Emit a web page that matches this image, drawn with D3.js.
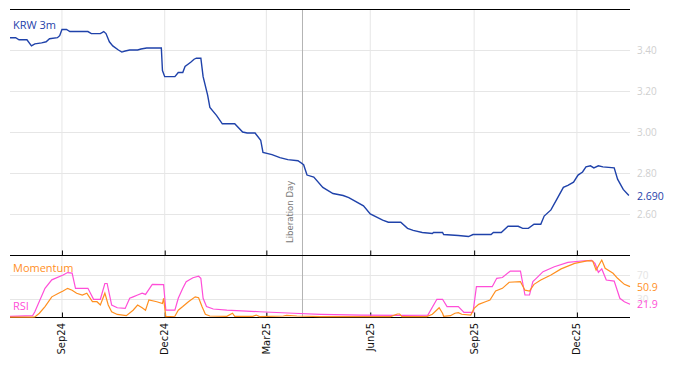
<!DOCTYPE html>
<html><head><meta charset="utf-8">
<script src="https://cdn.jsdelivr.net/npm/d3@7"></script>
<style>
html,body{margin:0;padding:0;background:#fff;}
svg{display:block;}
</style></head>
<body><svg id="c" width="674" height="366"></svg>
<script>
// ---- data ----
const krwDates = ["2024-07-17","2024-07-22","2024-07-25","2024-08-01","2024-08-05","2024-08-08","2024-08-14","2024-08-18","2024-08-21","2024-08-28","2024-08-30","2024-09-01","2024-09-05","2024-09-08","2024-09-24","2024-09-27","2024-10-05","2024-10-08","2024-10-10","2024-10-13","2024-10-16","2024-10-21","2024-10-24","2024-10-27","2024-10-31","2024-11-07","2024-11-10","2024-11-15","2024-11-28","2024-11-29","2024-12-01","2024-12-10","2024-12-13","2024-12-17","2024-12-19","2024-12-24","2024-12-27","2024-12-29","2025-01-02","2025-01-04","2025-01-08","2025-01-10","2025-01-16","2025-01-21","2025-02-01","2025-02-08","2025-02-12","2025-02-19","2025-02-24","2025-02-26","2025-03-06","2025-03-13","2025-03-20","2025-03-29","2025-04-03","2025-04-06","2025-04-12","2025-04-20","2025-04-29","2025-05-08","2025-05-13","2025-05-26","2025-06-01","2025-06-12","2025-06-17","2025-06-28","2025-07-04","2025-07-09","2025-07-17","2025-07-26","2025-07-27","2025-08-04","2025-08-05","2025-08-18","2025-08-27","2025-08-31","2025-09-16","2025-09-18","2025-09-25","2025-10-01","2025-10-10","2025-10-14","2025-10-19","2025-10-24","2025-10-30","2025-11-02","2025-11-08","2025-11-14","2025-11-19","2025-11-23","2025-11-28","2025-12-02","2025-12-06","2025-12-09","2025-12-13","2025-12-16","2025-12-20","2025-12-24","2026-01-03","2026-01-06","2026-01-11","2026-01-16"];
const krwValues = [3.46,3.46,3.45,3.45,3.42,3.43,3.435,3.44,3.455,3.46,3.47,3.50,3.50,3.49,3.49,3.48,3.48,3.49,3.48,3.44,3.42,3.40,3.39,3.395,3.40,3.40,3.405,3.41,3.41,3.30,3.27,3.27,3.29,3.29,3.32,3.34,3.355,3.36,3.36,3.27,3.18,3.12,3.08,3.04,3.04,3.00,2.995,2.995,2.96,2.90,2.89,2.875,2.865,2.86,2.84,2.79,2.78,2.73,2.70,2.69,2.68,2.64,2.60,2.57,2.56,2.56,2.53,2.52,2.51,2.505,2.51,2.51,2.50,2.495,2.49,2.50,2.50,2.51,2.51,2.54,2.54,2.53,2.53,2.55,2.55,2.59,2.62,2.68,2.73,2.74,2.755,2.79,2.805,2.83,2.835,2.825,2.835,2.83,2.825,2.77,2.72,2.69];

const rsiDates = ["2024-07-17","2024-08-06","2024-08-08","2024-08-17","2024-08-23","2024-09-02","2024-09-06","2024-09-10","2024-09-13","2024-09-24","2024-09-29","2024-10-05","2024-10-09","2024-10-11","2024-10-15","2024-10-20","2024-10-27","2024-10-31","2024-11-03","2024-11-07","2024-11-11","2024-11-14","2024-11-20","2024-11-30","2024-12-02","2024-12-10","2024-12-13","2024-12-17","2024-12-20","2024-12-26","2024-12-31","2025-01-02","2025-01-04","2025-01-07","2025-01-13","2025-01-25","2025-02-23","2025-03-25","2025-04-18","2025-05-24","2025-06-28","2025-07-22","2025-07-30","2025-08-04","2025-08-08","2025-08-18","2025-08-23","2025-08-31","2025-09-03","2025-09-17","2025-09-21","2025-09-26","2025-10-03","2025-10-12","2025-10-16","2025-10-20","2025-10-23","2025-10-26","2025-11-01","2025-11-11","2025-11-23","2025-12-05","2025-12-14","2025-12-17","2025-12-20","2025-12-23","2025-12-27","2026-01-03","2026-01-08","2026-01-12","2026-01-17"];
const rsiValues = [2,3,9.5,48,62,70,74,73,48,48,30,30,56,56,20.6,16,15,31.6,34,37,40,38,54.6,54,12,12,31.6,48,59,65.5,68,64.5,31.6,18,14,12.3,9.5,7,5.3,4,3.5,4,30,30,18,18,8.5,8.5,50.7,50.7,64.5,65.8,76.5,76.5,37,37,59,64.5,75.4,83.6,90.8,93,94,89,74.4,80,61.7,60,31.6,26,21.9];

const momDates = ["2024-07-17","2024-08-06","2024-08-08","2024-08-12","2024-08-17","2024-08-23","2024-08-29","2024-09-02","2024-09-06","2024-09-10","2024-09-14","2024-09-19","2024-09-23","2024-09-28","2024-10-02","2024-10-05","2024-10-09","2024-10-12","2024-10-15","2024-10-20","2024-10-28","2024-11-03","2024-11-07","2024-11-11","2024-11-14","2024-11-17","2024-11-24","2024-11-29","2024-11-30","2024-12-02","2024-12-10","2024-12-13","2024-12-17","2024-12-22","2024-12-28","2024-12-31","2025-01-03","2025-01-06","2025-01-10","2025-01-25","2025-01-30","2025-02-01","2025-02-17","2025-02-20","2025-02-23","2025-03-16","2025-03-19","2025-03-28","2025-04-18","2025-06-19","2025-06-25","2025-06-27","2025-06-29","2025-07-21","2025-07-26","2025-08-01","2025-08-04","2025-08-05","2025-08-11","2025-08-15","2025-08-18","2025-08-21","2025-08-29","2025-09-01","2025-09-05","2025-09-11","2025-09-15","2025-09-20","2025-09-26","2025-10-02","2025-10-12","2025-10-16","2025-10-20","2025-10-24","2025-10-30","2025-11-08","2025-11-17","2025-11-29","2025-12-11","2025-12-15","2025-12-18","2025-12-23","2025-12-26","2026-01-02","2026-01-06","2026-01-12","2026-01-17"];
const momValues = [0.5,0.5,1,7,18,34,40,43.6,48,45,40,37,40,26,26,20.6,40,20.6,9.5,5,3,12,20.6,16,12,29,26,23,31.6,1.5,2,12,18,26,34,32.6,18,5.3,2.5,2,7,2,2,4,1.5,2.5,3.5,2.5,1.5,1.5,5.8,5.8,1.5,1.5,5.3,16,7,2,3,7,8,5.3,4,15,21.7,26,28.8,43.6,48,58,59,45,43.6,54.6,61.7,70,80,89,93.5,93,78,94.6,81,72.8,64.5,54.6,50.9];

const xTickDates = ["2024-09-01","2024-12-01","2025-03-01","2025-06-01","2025-09-01","2025-12-01"];
const xTickLabels = ["Sep24","Dec24","Mar25","Jun25","Sep25","Dec25"];
const yTicksTop = [2.6,2.8,3.0,3.2,3.4];
const yTicksBottom = [30,70];
const eventDate = "2025-04-02";
const eventLabel = "Liberation Day";
const lastKrwLabel = "2.690";
const lastMomLabel = "50.9";
const lastRsiLabel = "21.9";

// ---- drawing ----
const P = d3.timeParse("%Y-%m-%d");
const svg = d3.select("#c");
const L = 10, R = 630, T1 = 9, B1 = 255, B2 = 317;
const blue = "#1f42aa", orange = "#ff8f1f", pink = "#ff4ed8", grid = "#e6e6e6", tickGrey = "#cfcfcf";

const x = d3.scaleTime().domain([P("2024-07-17"), P("2026-01-17")]).range([L, R]);
const yTop = d3.scaleLinear().domain([2.6, 3.4]).range([214, 50]);
const yBot = d3.scaleLinear().domain([0, 100]).range([317.5, 256.75]);

const tickDates = xTickDates.map(P);

// vertical gridlines
svg.append("g").selectAll("line").data(tickDates).join("line")
  .attr("x1", d => x(d)).attr("x2", d => x(d)).attr("y1", T1).attr("y2", B2)
  .attr("stroke", grid).attr("stroke-width", 1);

// horizontal gridlines
svg.append("g").selectAll("line").data(yTicksTop).join("line")
  .attr("x1", L).attr("x2", R).attr("y1", d => Math.round(yTop(d)) + 0.5).attr("y2", d => Math.round(yTop(d)) + 0.5)
  .attr("stroke", grid);
svg.append("g").selectAll("line").data(yTicksBottom).join("line")
  .attr("x1", L).attr("x2", R).attr("y1", d => Math.round(yBot(d)) + 0.5).attr("y2", d => Math.round(yBot(d)) + 0.5)
  .attr("stroke", grid);

// event line
const ex = x(P(eventDate));
svg.append("line").attr("x1", ex).attr("x2", ex).attr("y1", T1).attr("y2", B2)
  .attr("stroke", "#b4b4b4").attr("stroke-width", 1);
svg.append("text").attr("transform", `translate(${ex - 9},243) rotate(-90)`)
  .attr("font-family", "DejaVu Sans, sans-serif").attr("font-size", 8.5).attr("fill", "#777")
  .text(eventLabel);

// axes frames
svg.append("line").attr("x1", L).attr("x2", R).attr("y1", T1 + 0.5).attr("y2", T1 + 0.5).attr("stroke", "#000");
svg.append("line").attr("x1", L).attr("x2", R).attr("y1", B1 + 0.5).attr("y2", B1 + 0.5).attr("stroke", "#000");
svg.append("line").attr("x1", L).attr("x2", R).attr("y1", B2 + 0.5).attr("y2", B2 + 0.5).attr("stroke", "#000");

// ticks (inward)
const axTop = d3.axisTop(x).tickValues(tickDates).tickSize(5).tickFormat("");
const gT = svg.append("g").attr("transform", `translate(0,${B1 + 0.5})`).call(axTop);
gT.select(".domain").remove();
const axB = d3.axisTop(x).tickValues(tickDates).tickSize(5).tickFormat("");
const gB = svg.append("g").attr("transform", `translate(0,${B2 + 0.5})`).call(axB);
gB.select(".domain").remove();
svg.selectAll(".tick line").attr("stroke", "#000");

// x labels
svg.append("g").selectAll("text").data(tickDates).join("text")
  .attr("transform", (d) => `translate(${x(d) + 3.5},${B2 + 6}) rotate(-90)`)
  .attr("text-anchor", "end")
  .attr("font-family", "DejaVu Sans, sans-serif").attr("font-size", 10).attr("fill", "#111")
  .text((d, i) => xTickLabels[i]);

// right axis labels
svg.append("g").selectAll("text").data(yTicksTop).join("text")
  .attr("x", 637).attr("y", d => yTop(d) + 4)
  .attr("font-family", "Open Sans, sans-serif").attr("font-size", 10).attr("fill", tickGrey)
  .text(d => d.toFixed(2));
svg.append("g").selectAll("text").data(yTicksBottom).join("text")
  .attr("x", 637).attr("y", d => yBot(d) + 4)
  .attr("font-family", "Open Sans, sans-serif").attr("font-size", 10).attr("fill", "#e4e4e4")
  .text(d => d);

// lines
const krw = krwDates.map((d, i) => ({d: P(d), v: krwValues[i]}));
const rsi = rsiDates.map((d, i) => ({d: P(d), v: rsiValues[i]}));
const mom = momDates.map((d, i) => ({d: P(d), v: momValues[i]}));

svg.append("path").datum(krw)
  .attr("d", d3.line().x(p => x(p.d)).y(p => yTop(p.v)))
  .attr("fill", "none").attr("stroke", blue).attr("stroke-width", 1.4);
svg.append("path").datum(rsi)
  .attr("d", d3.line().x(p => x(p.d)).y(p => yBot(p.v)))
  .attr("fill", "none").attr("stroke", pink).attr("stroke-width", 1.2);
svg.append("path").datum(mom)
  .attr("d", d3.line().x(p => x(p.d)).y(p => yBot(p.v)))
  .attr("fill", "none").attr("stroke", orange).attr("stroke-width", 1.2);

// labels
const lab = (t, xx, yy, c, fs) => svg.append("text").attr("x", xx).attr("y", yy)
  .attr("font-family", "Open Sans, sans-serif").attr("font-size", fs).attr("fill", c).text(t);
lab("KRW 3m", 13, 29, blue, 11);
lab("Momentum", 13, 272, orange, 11);
lab("RSI", 13, 310, pink, 11);
lab(lastKrwLabel, 637, yTop(krwValues[krwValues.length - 1]) + 4, blue, 10.5);
lab(lastMomLabel, 637, yBot(momValues[momValues.length - 1]) + 4, orange, 10.5);
lab(lastRsiLabel, 637, yBot(rsiValues[rsiValues.length - 1]) + 4, pink, 10.5);
</script></body></html>
